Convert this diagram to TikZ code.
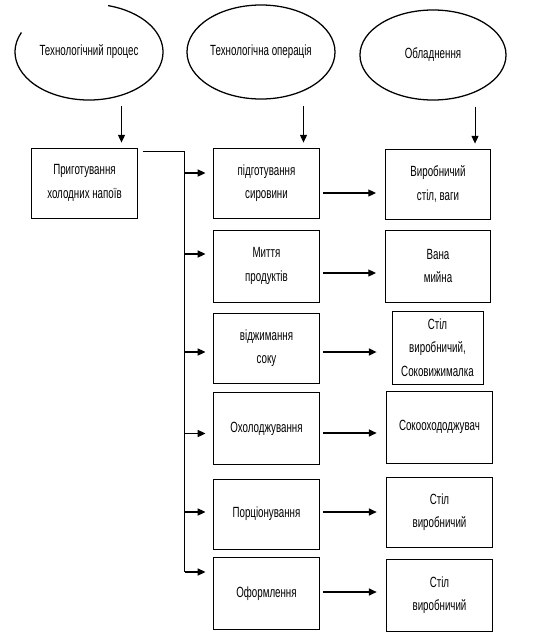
\documentclass[tikz,border=0pt]{standalone}
\usepackage{fontspec}
\setmainfont{Liberation Sans}[FakeStretch=0.66]
\usetikzlibrary{arrows.meta,shapes.geometric,calc}

\begin{document}
\begin{tikzpicture}[x=0.025cm, y=0.025cm,
                    every node/.style={font=\fontsize{10.5}{16.8}\selectfont},
                    box/.style={draw, line width=0.7pt, minimum width=2.625cm, minimum height=1.75cm, align=center, inner sep=1pt},
                    oval/.style={ellipse, line width=0.9pt, minimum width=3.7cm, minimum height=2.35cm, inner sep=0pt},
                    arr/.style={-{Triangle[length=5.5pt,width=5pt]}, line width=0.9pt}
                    ]
                    \useasboundingbox (0,0) rectangle (540,-632);

                    % headings
                    \node[oval] (e1) at (89,-52) {Технологічний процес};
                    \draw[line width=0.9pt] ([shift={(156:74 and 48)}]e1.center) arc[start angle=156, end angle=435, x radius=74, y radius=48];
                    \node[oval, draw] (e2) at (261,-52) {Технологічна операція};
                    \node[oval, draw, minimum width=3.65cm, minimum height=2.25cm] (e3) at (433,-55) {Обладнення};

                    % process
                    \node[box] (prep) at (84.5,-183) {Приготування\\холодних напоїв};

                    % operations
                    \node[box] (m1) at (266.5,-183) {підготування\\сировини};
                    \node[box, minimum height=1.8cm] (m2) at (266.5,-266) {Миття\\продуктів};
                    \node[box] (m3) at (266.5,-348) {віджимання\\соку};
                    \node[box, minimum height=1.78cm] (m4) at (266.5,-428.5) {Охолоджування};
                    \node[box] (m5) at (266.5,-514) {Порціонування};
                    \node[box, minimum height=1.78cm] (m6) at (266.5,-593.5) {Оформлення};

                    % equipment
                    \node[box] (r1) at (438,-184) {Виробничий\\стіл, ваги};
                    \node[box, minimum height=1.8cm] (r2) at (438,-266) {Вана\\мийна};
                    \node[box, minimum width=2.275cm, minimum height=1.825cm] (r3) at (437.5,-347.5) {Стіл\\виробничий,\\Соковижималка};
                    \node[box, minimum height=1.8cm] (r4) at (439.5,-427) {Сокоохододжувач};
                    \node[box] (r5) at (439.5,-512) {Стіл\\виробничий};
                    \node[box, minimum height=1.8cm] (r6) at (439.5,-595) {Стіл\\виробничий};

                    \foreach \e/\b in {e1/prep,e2/m1,e3/r1}{
                        \coordinate (top\b) at ([xshift=-16*0.025cm]\b.north east);
                        \draw[arr, line width=0.7pt, shorten <=4.3pt, shorten >=3.5pt] (top\b |- \e.south) -- (top\b);
                    }

                    \coordinate (bus) at ($(prep.north east)+(47,-4)$);
                    \foreach \i/\dl/\dr/\sr in {1/10/-10/6.4,2/12/-7/6.4,3/-4/-4/10.6,4/-5/-4.5/7,5/2/2/7,6/21.5/1.5/7}{
                        \coordinate (in\i) at ([yshift=\dl*0.025cm]m\i.west);
                        \draw[arr, shorten >=5.7pt] (in\i -| bus) -- (in\i);
                        \coordinate (out\i) at ([yshift=\dr*0.025cm]m\i.east);
                        \draw[arr, shorten <=2.8pt, shorten >=\sr pt] (out\i) -- (out\i -| r\i.west);
                    }
                    \draw[line width=0.8pt] ($(prep.north east)+(5,-4)$) -- (bus) -- (in6 -| bus);
                \end{tikzpicture}
\end{document}
